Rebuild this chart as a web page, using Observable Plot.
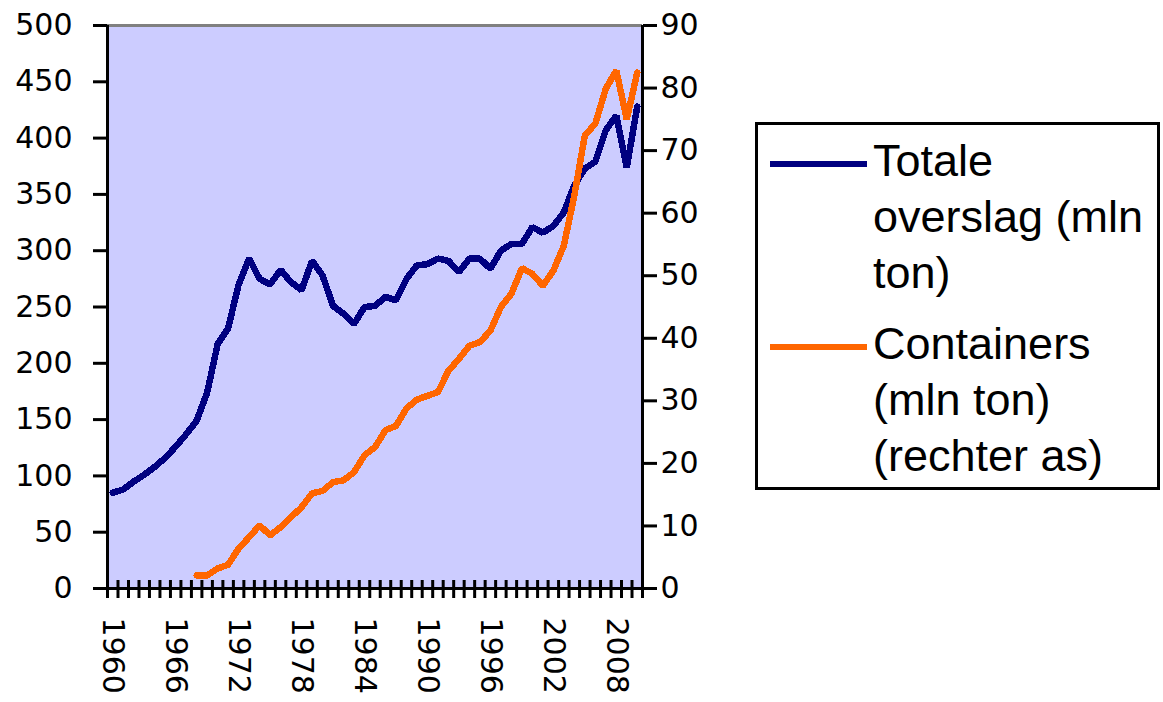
<!DOCTYPE html>
<html>
<head>
<meta charset="utf-8">
<script src="https://cdn.jsdelivr.net/npm/d3@7"></script>
<script src="https://cdn.jsdelivr.net/npm/@observablehq/plot@0.6"></script>
<style>
  html, body { margin: 0; padding: 0; background: #ffffff; }
  #wrap { position: relative; width: 1163px; height: 702px; font-family: "Liberation Sans", Arial, sans-serif; }
  #chart { position: absolute; left: 0; top: 0; }
  #chart svg text { font-family: "DejaVu Sans", sans-serif; }
  #legend { position: absolute; left: 755px; top: 122px; width: 405px; height: 368px; border: 3px solid #000; box-sizing: border-box; background: #fff; }
  .entry { position: absolute; left: 0; }
  .swatch { position: absolute; left: 12px; width: 97px; height: 6px; }
  .label { position: absolute; left: 115px; font-size: 45px; line-height: 56px; white-space: nowrap; color: #000; }
</style>
</head>
<body>
<div id="wrap">
  <div id="chart"></div>
  <div id="legend"></div>
</div>
<script>
// Data
const years = d3.range(1960, 2011);
const totaleOverslag = [85, 88, 95, 101, 108, 116, 126, 137, 149, 174,
  217, 231, 270, 293, 275, 270, 283, 272, 265, 291,
  278, 251, 244, 235, 250, 251, 259, 256, 275, 287,
  288, 293, 291, 281, 293, 293, 284, 300, 306, 306,
  321, 316, 322, 334, 358, 373, 379, 407, 420, 374, 428];
const containerYears = d3.range(1968, 2011);
const containers = [2.1, 2.1, 3.2, 3.8, 6.4, 8.2, 10.1, 8.5, 9.8, 11.4,
  13, 15.2, 15.6, 17, 17.3, 18.6, 21.3, 22.6, 25.3, 26,
  28.8, 30.2, 30.8, 31.4, 34.8, 36.7, 38.8, 39.4, 41.2, 45,
  47.1, 51.2, 50.3, 48.4, 50.8, 54.8, 62.8, 72.4, 74.3, 79.9,
  82.8, 75, 82.5];
const leftTicks = d3.range(0, 501, 50);
const rightTicks = d3.range(0, 91, 10);
const yearLabels = d3.range(1960, 2011, 6);
const seriesNames = ["Totale\noverslag (mln\nton)", "Containers\n(mln ton)\n(rechter as)"];
const seriesColors = ["#000080", "#ff6600"];

const leftMax = 500, rightMax = 90;
const toLeft = v => v * leftMax / rightMax;

const totalData = years.map((y, i) => ({year: y, value: totaleOverslag[i]}));
const contData = containerYears.map((y, i) => ({year: y, value: containers[i]}));
const boundaries = d3.range(years[0] - 0.5, years[years.length - 1] + 1, 1);

const chart = Plot.plot({
  width: 720,
  height: 702,
  marginLeft: 107,
  marginRight: 78,
  marginTop: 25,
  marginBottom: 114,
  x: {domain: [years[0] - 0.5, years[years.length - 1] + 0.5], label: null},
  y: {domain: [0, leftMax], label: null},
  style: {fontFamily: "'DejaVu Sans', sans-serif", fontSize: "30px", color: "#000", background: "transparent", overflow: "visible"},
  marks: [
    Plot.frame({fill: "#ccccff", stroke: null}),
    Plot.ruleY([leftMax], {stroke: "#808080", strokeWidth: 3}),
    Plot.line(totalData, {x: "year", y: "value", stroke: seriesColors[0], strokeWidth: 6.5, strokeLinejoin: "miter", shapeRendering: "crispEdges"}),
    Plot.line(contData, {x: "year", y: d => toLeft(d.value), stroke: seriesColors[1], strokeWidth: 6.5, strokeLinejoin: "miter", shapeRendering: "crispEdges"}),
    Plot.ruleX([years[0] - 0.5], {stroke: "#000", strokeWidth: 3}),
    Plot.ruleX([years[years.length - 1] + 0.5], {stroke: "#000", strokeWidth: 3}),
    Plot.ruleY([0], {stroke: "#000", strokeWidth: 3}),
    Plot.axisY(leftTicks, {anchor: "left", label: null, tickSize: 14, tickPadding: 21, strokeWidth: 3, fontSize: 30}),
    Plot.axisY(rightTicks.map(toLeft), {anchor: "right", label: null, tickSize: 14, tickPadding: 4, strokeWidth: 3, fontSize: 30,
      tickFormat: d => String(Math.round(d * rightMax / leftMax))}),
    Plot.axisX(boundaries, {label: null, tickSize: 10, strokeWidth: 3, tickFormat: () => ""}),
    Plot.axisX(boundaries, {label: null, tickSize: -8, strokeWidth: 3, tickFormat: () => ""}),
    Plot.axisX(yearLabels, {label: null, tickSize: 0, tickPadding: 29, tickRotate: 90, fontSize: 30, tickFormat: d => String(d)})
  ]
});
document.getElementById("chart").appendChild(chart);

// Legend
const legend = document.getElementById("legend");
const entryTops = [8, 191];
const swatchOffsets = [28, 28];
seriesNames.forEach((name, i) => {
  const e = document.createElement("div");
  e.className = "entry";
  e.style.top = entryTops[i] + "px";
  const sw = document.createElement("div");
  sw.className = "swatch";
  sw.style.background = seriesColors[i];
  sw.style.top = swatchOffsets[i] + "px";
  const lb = document.createElement("div");
  lb.className = "label";
  lb.innerHTML = name.split("\n").join("<br>");
  e.appendChild(sw);
  e.appendChild(lb);
  legend.appendChild(e);
});
</script>
</body>
</html>
